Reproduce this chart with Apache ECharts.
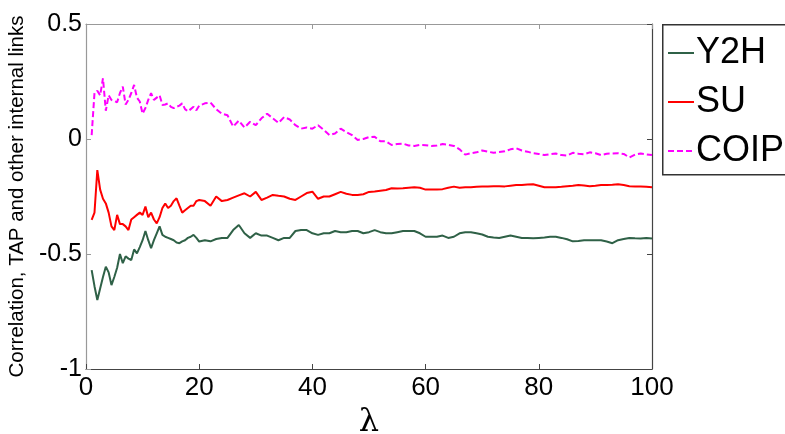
<!DOCTYPE html>
<html>
<head>
<meta charset="utf-8">
<script src="https://cdn.jsdelivr.net/npm/echarts@6/dist/echarts.min.js"></script>
<style>html,body{margin:0;padding:0;background:#fff;}#c{width:785px;height:434px;}</style>
</head>
<body>
<div id="c"></div>
<script>
var lambda = [1,1.5,2,2.5,3,3.5,4,4.5,5,5.5,6,6.5,7,7.5,8,8.5,9,9.5,10,10.5,11,11.5,12,12.5,13,13.5,14,14.5,15,15.5,16,16.5,17,17.5,18,18.5,19,19.5,20,
21,22,23,24,25,26,27,28,29,30,31,32,33,34,35,36,37,38,39,40,41,42,43,44,45,46,47,48,49,50,
51,52,53,54,55,56,57,58,59,60,61,62,63,64,65,66,67,68,69,70,71,72,73,74,75,76,77,78,79,80,
81,82,83,84,85,86,87,88,89,90,91,92,93,94,95,96,97,98,99,100];

var y2h = [-0.57,-0.64,-0.70,-0.65,-0.60,-0.555,-0.58,-0.635,-0.60,-0.56,-0.50,-0.54,-0.51,-0.52,-0.526,-0.48,-0.497,-0.47,-0.44,-0.40,-0.44,-0.475,-0.44,-0.41,-0.38,-0.417,-0.425,-0.43,-0.435,-0.44,-0.45,-0.453,-0.445,-0.44,-0.43,-0.425,-0.417,-0.43,-0.446,
-0.44,-0.445,-0.435,-0.43,-0.43,-0.396,-0.374,-0.41,-0.43,-0.41,-0.42,-0.42,-0.43,-0.44,-0.43,-0.43,-0.40,-0.396,-0.396,-0.41,-0.417,-0.41,-0.41,-0.40,-0.405,-0.405,-0.40,-0.40,-0.41,-0.405,
-0.396,-0.405,-0.41,-0.41,-0.405,-0.40,-0.40,-0.40,-0.41,-0.425,-0.425,-0.425,-0.42,-0.43,-0.425,-0.41,-0.405,-0.405,-0.41,-0.415,-0.425,-0.428,-0.43,-0.425,-0.42,-0.425,-0.43,-0.43,-0.432,-0.43,
-0.428,-0.425,-0.425,-0.43,-0.436,-0.445,-0.443,-0.44,-0.44,-0.44,-0.44,-0.446,-0.453,-0.44,-0.435,-0.43,-0.432,-0.433,-0.43,-0.433];

var su = [-0.352,-0.32,-0.135,-0.22,-0.26,-0.28,-0.32,-0.38,-0.396,-0.33,-0.37,-0.37,-0.38,-0.396,-0.35,-0.34,-0.33,-0.32,-0.33,-0.294,-0.34,-0.32,-0.35,-0.367,-0.34,-0.30,-0.28,-0.30,-0.29,-0.27,-0.258,-0.29,-0.32,-0.31,-0.30,-0.29,-0.29,-0.27,-0.265,
-0.27,-0.29,-0.25,-0.27,-0.265,-0.255,-0.245,-0.236,-0.25,-0.23,-0.265,-0.255,-0.243,-0.247,-0.25,-0.26,-0.265,-0.25,-0.235,-0.229,-0.26,-0.25,-0.25,-0.24,-0.23,-0.238,-0.243,-0.243,-0.24,-0.23,
-0.228,-0.225,-0.222,-0.214,-0.215,-0.214,-0.212,-0.21,-0.212,-0.22,-0.22,-0.22,-0.218,-0.212,-0.207,-0.212,-0.21,-0.21,-0.208,-0.207,-0.206,-0.205,-0.205,-0.206,-0.203,-0.2,-0.2,-0.198,-0.197,-0.203,
-0.21,-0.21,-0.21,-0.208,-0.205,-0.203,-0.2,-0.202,-0.205,-0.203,-0.2,-0.2,-0.199,-0.197,-0.2,-0.205,-0.206,-0.207,-0.208,-0.21];

var coip = [0.017,0.20,0.21,0.19,0.264,0.123,0.19,0.17,0.165,0.16,0.20,0.228,0.15,0.17,0.20,0.235,0.18,0.163,0.11,0.135,0.17,0.199,0.17,0.18,0.19,0.148,0.15,0.155,0.14,0.134,0.14,0.145,0.155,0.13,0.12,0.13,0.14,0.125,0.145,
0.155,0.158,0.13,0.11,0.103,0.054,0.08,0.05,0.075,0.06,0.09,0.11,0.09,0.07,0.095,0.085,0.06,0.045,0.05,0.045,0.06,0.04,0.017,0.024,0.045,0.03,0.017,-0.004,0.0,0.008,
0.01,-0.01,-0.01,-0.026,-0.022,-0.02,-0.028,-0.03,-0.026,-0.027,-0.03,-0.028,-0.022,-0.025,-0.03,-0.045,-0.068,-0.062,-0.058,-0.05,-0.055,-0.06,-0.057,-0.053,-0.045,-0.04,-0.05,-0.055,-0.062,-0.065,
-0.07,-0.066,-0.063,-0.07,-0.072,-0.06,-0.064,-0.066,-0.058,-0.062,-0.07,-0.064,-0.063,-0.062,-0.065,-0.08,-0.068,-0.063,-0.067,-0.07];

var seriesNames = ['Y2H', 'SU', 'COIP'];
var xTicks = [0, 20, 40, 60, 80, 100];
var yTicks = [-1, -0.5, 0, 0.5];

function zip(xs, ys) { return xs.map(function (x, i) { return [x, ys[i]]; }); }

var chart = echarts.init(document.getElementById('c'), null, {renderer: 'canvas'});
var font = 'Liberation Sans, Arial, sans-serif';
chart.setOption({
  animation: false,
  backgroundColor: '#fff',
  textStyle: {fontFamily: font, color: '#000'},
  grid: {left: 86, right: 133, top: 24, bottom: 65, containLabel: false, outerBoundsMode: 'none'},
  graphic: [{
    type: 'rect', left: 662, top: 24, z: 0,
    shape: {width: 200, height: 150},
    style: {fill: '#fff', stroke: '#333', lineWidth: 1.5}
  }],
  legend: {
    orient: 'vertical', left: 662, top: 24,
    data: seriesNames,
    itemWidth: 26, itemHeight: 14, itemGap: 13,
    padding: [11, 20, 5, 5],
    borderWidth: 0,
    itemStyle: {opacity: 0},
    textStyle: {fontSize: 36, fontFamily: font, color: '#000', padding: [0, 0, 0, -3]}
  },
  xAxis: [{
    type: 'value', min: xTicks[0], max: xTicks[xTicks.length - 1], interval: 20, position: 'bottom',
    axisLine: {onZero: false, lineStyle: {color: '#444', width: 1.2}},
    axisTick: {inside: true, length: 5, lineStyle: {color: '#444'}},
    axisLabel: {fontSize: 26, color: '#000', margin: 6, fontFamily: font},
    splitLine: {show: false},
    name: 'λ', nameLocation: 'middle', nameGap: 38,
    nameTextStyle: {fontSize: 32, color: '#000', fontFamily: 'DejaVu Serif, serif'}
  }, {
    type: 'value', min: 0, max: 100, interval: 20, position: 'top',
    axisLine: {onZero: false, lineStyle: {color: '#999', width: 1.2}},
    axisTick: {inside: true, length: 5, lineStyle: {color: '#999'}},
    axisLabel: {show: false}, splitLine: {show: false}
  }],
  yAxis: [{
    type: 'value', min: yTicks[0], max: yTicks[yTicks.length - 1], interval: 0.5, position: 'left',
    axisLine: {show: true, onZero: false, lineStyle: {color: '#999', width: 1.2}},
    axisTick: {show: true, inside: true, length: 5, lineStyle: {color: '#999'}},
    axisLabel: {fontSize: 25, color: '#000', margin: 4, fontFamily: font},
    splitLine: {show: false},
    name: 'Correlation, TAP and other internal links', nameLocation: 'middle', nameGap: 57,
    nameTextStyle: {fontSize: 20.5, color: '#000', fontFamily: font}
  }, {
    type: 'value', min: -1, max: 0.5, interval: 0.5, position: 'right',
    axisLine: {show: true, onZero: false, lineStyle: {color: '#444', width: 1.2}},
    axisTick: {show: true, inside: true, length: 5, lineStyle: {color: '#444'}},
    axisLabel: {show: false}, splitLine: {show: false}
  }],
  series: [{
    name: seriesNames[0], type: 'line', data: zip(lambda, y2h), symbol: 'none', showSymbol: false,
    lineStyle: {color: '#2f6147', width: 2}, itemStyle: {color: '#2f6147'}
  }, {
    name: seriesNames[1], type: 'line', data: zip(lambda, su), symbol: 'none', showSymbol: false,
    lineStyle: {color: '#ff0000', width: 2}, itemStyle: {color: '#ff0000'}
  }, {
    name: seriesNames[2], type: 'line', data: zip(lambda, coip), symbol: 'none', showSymbol: false,
    lineStyle: {color: '#ff00ff', width: 2, type: [6, 3]}, itemStyle: {color: '#ff00ff'}
  }]
});
</script>
</body>
</html>
